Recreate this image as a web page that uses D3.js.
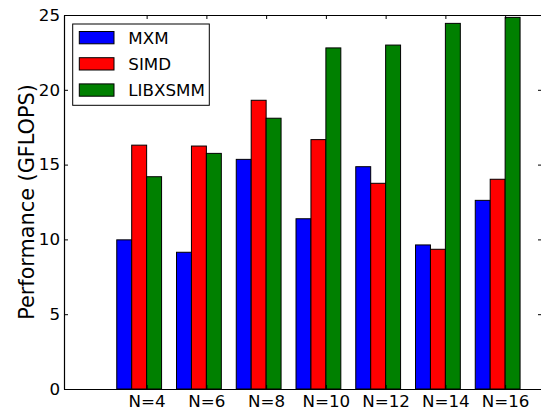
<!DOCTYPE html>
<html>
<head>
<meta charset="utf-8">
<script src="https://cdn.jsdelivr.net/npm/d3@7"></script>
<style>
  body { margin: 0; background: #fff; }
  svg { display: block; font-family: "DejaVu Sans", sans-serif; }
</style>
</head>
<body>
<script>

var width = 541,
	height = 412;

// values (GFLOPS)
var categories = ['N=4', 'N=6', 'N=8', 'N=10', 'N=12', 'N=14', 'N=16'];
var series = ['MXM', 'SIMD', 'LIBXSMM'];
var mxm     = [9.97, 9.14, 15.35, 11.38, 14.86, 9.63, 12.61];
var simd    = [16.3, 16.24, 19.3, 16.67, 13.75, 9.34, 14.02];
var libxsmm = [14.19, 15.75, 18.1, 22.8, 22.99, 24.44, 24.84];
var yTicks  = [0, 5, 10, 15, 20, 25];
var colors  = ['#0000ff', '#ff0000', '#008000'];

var values = [mxm, simd, libxsmm];
var barW = 0.25;

var margin = {left: 64, right: 542, top: 15, bottom: 389};

var svg = d3.select('body').append('svg')
			.attr('width', width)
			.attr('height', height)

var x = d3.scaleLinear()
			.domain([-0.883, 7.117])
			.range([margin.left, margin.right]);

var y = d3.scaleLinear()
			.domain([0, 25])
			.range([margin.bottom, margin.top]);


// bars
series.forEach(function(s, j){
	svg.append('g').selectAll('rect')
		.data(values[j])
		.enter().append('rect')
		.attr('x', function(d, i){ return x(i + j*barW); })
		.attr('y', function(d){ return y(d); })
		.attr('width', x(barW) - x(0))
		.attr('height', function(d){ return y(0) - y(d); })
		.attr('fill', colors[j])
		.attr('stroke', '#000')
		.attr('stroke-width', 1);
});


// axes, ticks pointing inward
var tickPos = categories.map(function(c, i){ return i + 2*barW; });

var bottom = svg.append('g')
	.attr('transform', 'translate(0,' + margin.bottom + ')')
	.call(d3.axisBottom(x).tickValues(tickPos)
		.tickFormat(function(d, i){ return categories[i]; })
		.tickSizeInner(-4).tickSizeOuter(0).tickPadding(6));

var top = svg.append('g')
	.attr('transform', 'translate(0,' + margin.top + ')')
	.call(d3.axisTop(x).tickValues(tickPos).tickFormat('')
		.tickSizeInner(-4).tickSizeOuter(0));

var left = svg.append('g')
	.attr('transform', 'translate(' + margin.left + ',0)')
	.call(d3.axisLeft(y).tickValues(yTicks).tickFormat(d3.format('d'))
		.tickSizeInner(-4).tickSizeOuter(0).tickPadding(4));

var right = svg.append('g')
	.attr('transform', 'translate(' + margin.right + ',0)')
	.call(d3.axisRight(y).tickValues(yTicks).tickFormat('')
		.tickSizeInner(-4).tickSizeOuter(0));

svg.selectAll('.domain').attr('stroke', '#000').attr('stroke-width', 1.2);
svg.selectAll('.tick line').attr('stroke', '#000').attr('stroke-width', 1);
svg.selectAll('.tick text')
	.attr('fill', '#000')
	.style('font-size', '16.7px')
	.style('font-family', '"DejaVu Sans", sans-serif');

bottom.selectAll('.tick text').attr('dy', '0.71em');


// y label
svg.append('text')
	.attr('transform', 'translate(34,' + (margin.top + margin.bottom)/2 + ') rotate(-90)')
	.attr('text-anchor', 'middle')
	.style('font-size', '20.8px')
	.text('Performance (GFLOPS)');


// legend
var legend = svg.append('g');

legend.append('rect')
	.attr('x', 72.7)
	.attr('y', 24)
	.attr('width', 136.6)
	.attr('height', 81.3)
	.attr('fill', '#fff')
	.attr('stroke', '#000')
	.attr('stroke-width', 1);

series.forEach(function(s, j){
	var cy = 37.7 + j*26.2;
	legend.append('rect')
		.attr('x', 79.3)
		.attr('y', cy - 6.2)
		.attr('width', 34.7)
		.attr('height', 12.3)
		.attr('fill', colors[j])
		.attr('stroke', '#000')
		.attr('stroke-width', 1);
	legend.append('text')
		.attr('x', 128.3)
		.attr('y', cy + 6)
		.style('font-size', '16.7px')
		.text(s);
});

</script>
</body>
</html>
